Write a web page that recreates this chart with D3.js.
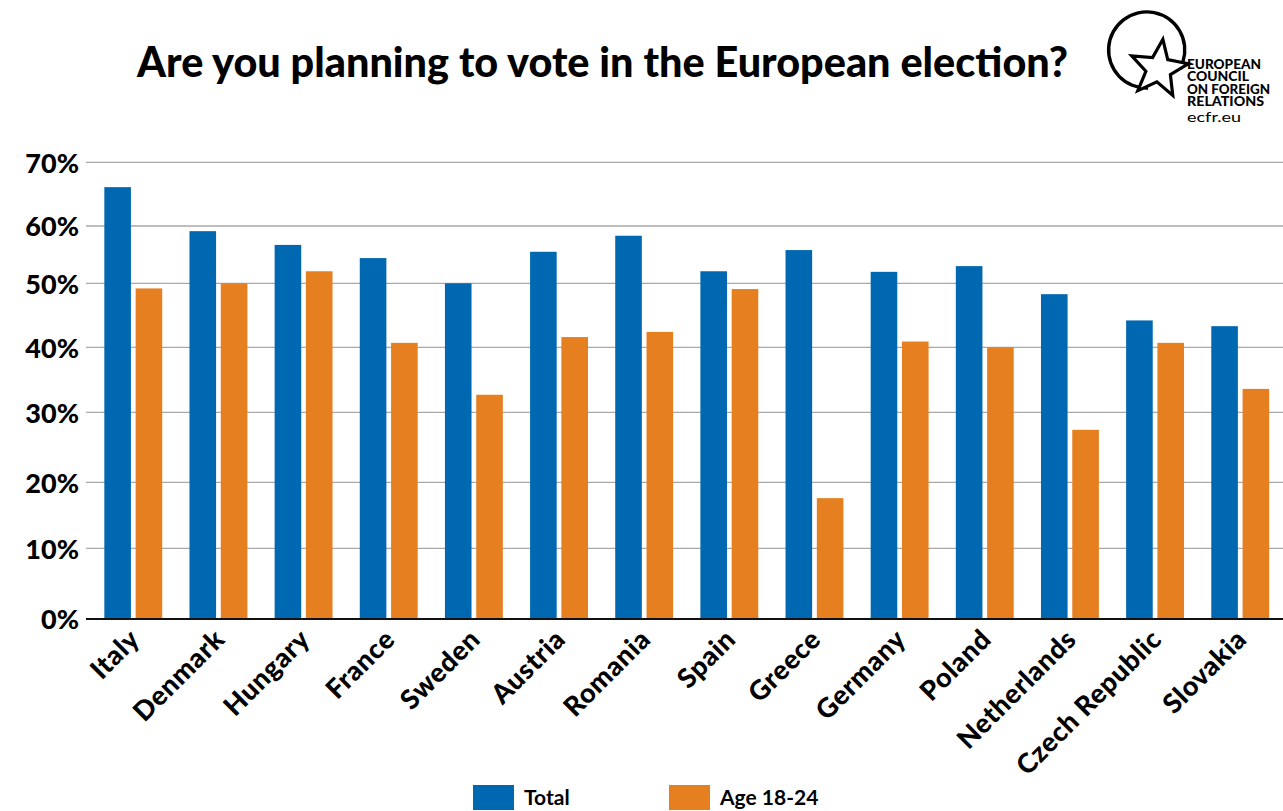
<!DOCTYPE html>
<html>
<head>
<meta charset="utf-8">
<script src="https://cdn.jsdelivr.net/npm/d3@7"></script>
<style>
  html, body { margin: 0; padding: 0; background: #ffffff; }
  svg { display: block; font-family: "Lato", "Open Sans", sans-serif; }
</style>
</head>
<body>
<svg id="chart" width="1283" height="811"></svg>
<script>
// Survey results: share of respondents planning to vote, by country
const countries = ["Italy", "Denmark", "Hungary", "France", "Sweden", "Austria", "Romania",
  "Spain", "Greece", "Germany", "Poland", "Netherlands", "Czech Republic", "Slovakia"];
const totalValues = [66.1, 59.1, 56.7, 54.4, 50.0, 55.5, 58.3, 52.1, 55.8, 52.0, 53.0, 48.3, 44.2, 43.3];
const youthValues = [49.2, 50.0, 52.1, 40.7, 32.7, 41.6, 42.4, 49.1, 17.6, 40.9, 40.0, 27.5, 40.7, 33.6];
const seriesNames = ["Total", "Age 18-24"];
const yTicks = [0, 10, 20, 30, 40, 50, 60, 70];

// Layout
const colors = { "Total": "#0068b1", "Age 18-24": "#e67f1f" };
const plotLeft = 86, plotRight = 1283;
// vertical positions of the tick levels (the axis is drawn piecewise-linear)
const tickRows = [619, 548.3, 482.3, 412.3, 347.3, 283.3, 226, 162.3];

const rows = countries.map((c, i) => ({ country: c, "Total": totalValues[i], "Age 18-24": youthValues[i] }));

const svg = d3.select("#chart");

const x = d3.scaleBand()
  .domain(countries)
  .range([90.7, 1282.8])
  .paddingInner(0.32)
  .paddingOuter(0.16);

const xSeries = d3.scaleBand()
  .domain(seriesNames)
  .range([0, x.bandwidth()])
  .paddingInner(0.15);

const y = d3.scaleLinear()
  .domain(yTicks)
  .range(tickRows);

// Title
svg.append("text")
  .attr("x", 137)
  .attr("y", 77)
  .attr("font-size", 42)
  .attr("font-weight", 900)
  .attr("fill", "#000")
  .attr("textLength", 931)
  .attr("lengthAdjust", "spacingAndGlyphs")
  .text("Are you planning to vote in the European election?");

// Gridlines
svg.append("g")
  .selectAll("line")
  .data(yTicks.filter(d => d > 0))
  .join("line")
  .attr("x1", plotLeft)
  .attr("x2", plotRight)
  .attr("y1", d => y(d))
  .attr("y2", d => y(d))
  .attr("stroke", "#a9a9a9")
  .attr("stroke-width", 1.3);

// Y axis labels
const yAxis = d3.axisLeft(y)
  .tickValues(yTicks)
  .tickSize(0)
  .tickPadding(0)
  .tickFormat(d => d + "%");

svg.append("g")
  .attr("transform", "translate(79,0)")
  .call(yAxis)
  .call(g => g.select(".domain").remove())
  .call(g => g.selectAll("text")
    .attr("font-family", "Lato, sans-serif")
    .attr("font-size", 27)
    .attr("font-weight", 900)
    .attr("fill", "#000")
    .attr("dy", "0.36em"));

// Bars
svg.append("g")
  .selectAll("g")
  .data(rows)
  .join("g")
  .attr("transform", d => `translate(${x(d.country)},0)`)
  .selectAll("rect")
  .data(d => seriesNames.map(s => ({ series: s, value: d[s] })))
  .join("rect")
  .attr("x", d => xSeries(d.series))
  .attr("width", xSeries.bandwidth())
  .attr("y", d => y(d.value))
  .attr("height", d => y(0) - y(d.value))
  .attr("fill", d => colors[d.series]);

// Baseline
svg.append("line")
  .attr("x1", plotLeft)
  .attr("x2", plotRight)
  .attr("y1", y(0))
  .attr("y2", y(0))
  .attr("stroke", "#111")
  .attr("stroke-width", 2);

// Category labels
const xAxis = d3.axisBottom(x).tickSize(0).tickPadding(0);
svg.append("g")
  .attr("transform", `translate(0,${y(0)})`)
  .call(xAxis)
  .call(g => g.select(".domain").remove())
  .call(g => g.selectAll("text")
    .attr("font-family", "Lato, sans-serif")
    .attr("font-size", 27)
    .attr("font-weight", 900)
    .attr("letter-spacing", 0.6)
    .attr("fill", "#000")
    .attr("text-anchor", "end")
    .attr("dy", null)
    .attr("y", null)
    .attr("transform", "translate(8,22) rotate(-45)"));

// Legend
const legendX = { "Total": 473, "Age 18-24": 669 };
const legend = svg.append("g")
  .selectAll("g")
  .data(seriesNames)
  .join("g")
  .attr("transform", d => `translate(${legendX[d]},785)`);
legend.append("rect")
  .attr("width", 41)
  .attr("height", 25)
  .attr("fill", d => colors[d]);
legend.append("text")
  .attr("x", 51)
  .attr("y", 20)
  .attr("font-size", 21)
  .attr("font-weight", 700)
  .attr("fill", "#000")
  .text(d => d);

// ECFR logo: open ring with an outlined star
const logo = svg.append("g").attr("transform", "translate(1146.7,50)");
logo.append("path")
  .attr("d", d3.arc()
    .innerRadius(36.4)
    .outerRadius(39.8)
    .startAngle(178 * Math.PI / 180)
    .endAngle(468 * Math.PI / 180)())
  .attr("fill", "#000");

const starPoints = d3.range(10).map(i => [
  (i * 36 + 8) * Math.PI / 180,
  i % 2 === 0 ? 30 : 13
]);
logo.append("path")
  .attr("transform", "translate(12,19)")
  .attr("d", d3.lineRadial().curve(d3.curveLinearClosed)(starPoints))
  .attr("fill", "#fff")
  .attr("stroke", "#000")
  .attr("stroke-width", 3.2)
  .attr("stroke-linejoin", "miter");

const logoLines = ["EUROPEAN", "COUNCIL", "ON FOREIGN", "RELATIONS"];
const logoWidths = [74, 62, 83, 77];
svg.append("g")
  .selectAll("text")
  .data(logoLines)
  .join("text")
  .attr("x", 1187)
  .attr("y", (d, i) => 68.5 + i * 12.6)
  .attr("font-size", 12.3)
  .attr("font-weight", 900)
  .attr("textLength", (d, i) => logoWidths[i])
  .attr("lengthAdjust", "spacingAndGlyphs")
  .attr("fill", "#000")
  .text(d => d);
svg.append("text")
  .attr("x", 1187)
  .attr("y", 122)
  .attr("font-size", 13)
  .attr("font-weight", 400)
  .attr("textLength", 54)
  .attr("lengthAdjust", "spacingAndGlyphs")
  .attr("fill", "#000")
  .text("ecfr.eu");
</script>
</body>
</html>
